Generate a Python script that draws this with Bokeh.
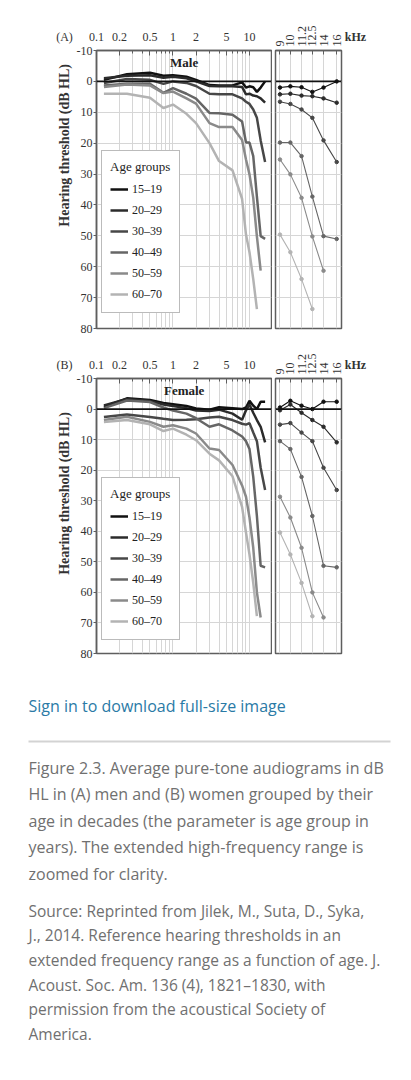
import math
from bokeh.plotting import figure
from bokeh.models import (Range1d, FixedTicker, PrintfTickFormatter, Span, Label,
                          Legend, LegendItem)
from bokeh.layouts import column, row
from bokeh.embed import file_html
from bokeh.resources import INLINE
from bokeh.core.properties import value

# ---------------- data ----------------
freqs = [0.125, 0.25, 0.5, 0.75, 1, 1.5, 2, 3, 4, 6, 8, 9, 10, 11.2, 12.5, 14, 16]
ext_ticks = [9, 10, 11.2, 12.5, 14, 16]
main_major_ticks = [0.1, 0.2, 0.5, 1, 2, 5, 10]
main_minor_ticks = [0.3, 0.4, 0.6, 0.7, 0.8, 0.9, 3, 4, 6, 7, 8, 9]
db_ticks = [-10, 0, 10, 20, 30, 40, 50, 60, 70, 80]

age_groups = ["15–19", "20–29", "30–39", "40–49", "50–59", "60–70"]
colors = ["#111111", "#2b2b2b", "#474747", "#666666", "#8a8a8a", "#b3b3b3"]

male_15_19 = [-0.5, -2.3, -2.8, -1.8, -2.0, -1.5, -0.5, 1.2, 1.3, 1.3, 0.3, 2.0, 1.6, 1.9, 3.4, 2.0, 0.0]
male_20_29 = [-1.0, -1.8, -2.0, -1.2, -1.5, -1.0, 0.0, 1.5, 1.6, 1.6, 1.8, 4.2, 4.0, 4.6, 4.8, 5.5, 6.9]
male_30_39 = [0.5, -0.8, -0.5, 0.8, 0.0, 0.5, 1.5, 4.0, 4.2, 4.2, 5.5, 6.6, 7.3, 9.1, 11.8, 19.1, 26.1]
male_40_49 = [1.3, 0.8, 0.8, 3.7, 2.2, 4.0, 5.6, 10.2, 10.3, 10.8, 13.0, 19.8, 19.8, 24.2, 37.3, 50.1, 51.0]
male_50_59 = [1.8, 1.0, 1.3, 3.8, 3.3, 5.5, 7.2, 13.5, 14.8, 14.8, 19.0, 25.3, 30.1, 37.7, 50.2, 61.3]
male_60_70 = [4.0, 4.0, 5.3, 8.6, 7.5, 10.5, 13.5, 20.0, 25.8, 28.8, 38.0, 49.6, 55.3, 64.0, 73.7]

female_15_19 = [-0.7, -3.5, -3.0, -2.0, -1.6, -1.0, -0.2, 0.2, -0.6, -0.3, 0.0, -0.5, -2.7, -1.1, 0.0, -2.4, -2.4]
female_20_29 = [-1.2, -3.3, -2.6, -1.5, -1.0, -0.3, 0.5, 0.6, 0.2, 1.5, 3.5, 0.4, -1.5, 1.2, 3.6, 5.8, 10.9]
female_30_39 = [2.6, 1.8, 2.6, 3.2, 3.6, 3.5, 3.3, 2.8, 2.5, 3.6, 4.8, 5.1, 4.6, 7.7, 10.5, 19.2, 26.5]
female_40_49 = [-0.3, -2.8, -2.3, -0.5, 0.5, 1.5, 3.0, 5.8, 5.0, 7.0, 9.0, 10.5, 13.1, 22.2, 35.0, 51.3, 51.8]
female_50_59 = [3.6, 2.5, 4.2, 5.8, 5.3, 6.4, 8.0, 12.9, 13.4, 18.3, 25.0, 28.7, 35.5, 45.4, 60.0, 68.2]
female_60_70 = [4.2, 3.6, 5.0, 7.2, 6.4, 8.4, 10.2, 14.6, 16.8, 22.0, 32.0, 40.4, 47.6, 56.9, 67.8]

male = [male_15_19, male_20_29, male_30_39, male_40_49, male_50_59, male_60_70]
female = [female_15_19, female_20_29, female_30_39, female_40_49, female_50_59, female_60_70]

y_title = "Hearing threshold (dB HL)"
caption_lines = [
    "Figure 2.3. Average pure-tone audiograms in dB",
    "HL in (A) men and (B) women grouped by their",
    "age in decades (the parameter is age group in",
    "years). The extended high-frequency range is",
    "zoomed for clarity.",
]
source_lines = [
    "Source: Reprinted from Jilek, M., Suta, D., Syka,",
    "J., 2014. Reference hearing thresholds in an",
    "extended frequency range as a function of age. J.",
    "Acoust. Soc. Am. 136 (4), 1821–1830, with",
    "permission from the acoustical Society of",
    "America.",
]

SERIF = "Liberation Serif"
SANS = "Open Sans"
GRID = "#d6d6d6"
FRAME = "#5e5e5e"
EXT_START = freqs.index(9)
TOP_STANDOFF = 10


def blank(width, height, y0=0, y1=None, xaxis_text=None, xaxis_at=0, bold=False):
    """Plain canvas whose data units are pixels (y downwards); optional one-label top axis."""
    y1 = height if y1 is None else y1
    f = figure(width=width, height=height, x_range=Range1d(0, width), y_range=Range1d(y1, y0),
               x_axis_location="above" if xaxis_text else None, y_axis_location=None,
               min_border_left=0, min_border_right=0, min_border_top=0, min_border_bottom=0,
               toolbar_location=None, tools="", output_backend="svg")
    f.outline_line_color = None
    f.grid.visible = False
    if xaxis_text:
        ax = f.xaxis[0]
        ax.ticker = FixedTicker(ticks=[xaxis_at], minor_ticks=[])
        ax.formatter = PrintfTickFormatter(format=xaxis_text)
        ax.axis_line_color = None
        ax.major_tick_line_color = None
        ax.minor_tick_line_color = None
        ax.major_tick_in = 0
        ax.major_tick_out = 0
        ax.major_label_standoff = TOP_STANDOFF - 3
        ax.major_label_text_font = SERIF
        ax.major_label_text_font_size = "12px"
        ax.major_label_text_font_style = "bold" if bold else "normal"
        ax.major_label_text_color = "#333333"
    return f


def side_labels(tag, frame_top, frame_bottom, title_y):
    # canvas is frame-aligned with its row neighbours: data y == page y inside the frame
    f = blank(73, frame_bottom - frame_top, frame_top, frame_bottom, tag, 64)
    f.text(x=[64], y=[title_y], text=[y_title], angle=math.pi / 2,
           text_font=value(SERIF), text_font_style="bold", text_font_size="14px",
           text_color="#333333", text_align="center", text_baseline="middle")
    return f


def khz_label(frame_top, frame_bottom):
    return blank(57, frame_bottom - frame_top, frame_top, frame_bottom, "kHz", 11, bold=True)


def main_panel(series, sex_label, frame_h, top, bottom, legend_dy):
    p = figure(x_axis_type="log", x_axis_location="above",
               x_range=Range1d(0.1, 19.4), y_range=Range1d(80, -10),
               frame_width=175, frame_height=frame_h,
               min_border_left=23, min_border_right=1,
               min_border_top=top, min_border_bottom=bottom,
               toolbar_location=None, tools="", output_backend="svg")
    p.outline_line_color = FRAME
    p.outline_line_width = 1.5

    xa = p.xaxis[0]
    xa.ticker = FixedTicker(ticks=main_major_ticks, minor_ticks=main_minor_ticks)
    xa.formatter = PrintfTickFormatter(format="%g")
    xa.major_tick_in = 5
    xa.major_tick_out = 0
    xa.minor_tick_in = 3
    xa.minor_tick_out = 0
    xa.major_label_standoff = TOP_STANDOFF
    xa.axis_line_color = FRAME
    xa.axis_line_width = 1.5
    xa.major_tick_line_color = FRAME
    xa.minor_tick_line_color = FRAME
    xa.major_label_text_font = SERIF
    xa.major_label_text_font_size = "12px"
    xa.major_label_text_color = "#333333"

    ya = p.yaxis[0]
    ya.ticker = FixedTicker(ticks=db_ticks)
    ya.formatter = PrintfTickFormatter(format="%d")
    ya.minor_tick_line_color = None
    ya.major_tick_in = 0
    ya.major_tick_out = 3
    ya.major_label_standoff = 1
    ya.axis_line_color = FRAME
    ya.axis_line_width = 1.5
    ya.major_tick_line_color = FRAME
    ya.major_label_text_font = SERIF
    ya.major_label_text_font_size = "12px"
    ya.major_label_text_color = "#333333"

    p.xgrid.grid_line_color = GRID
    p.xgrid.minor_grid_line_color = GRID
    p.ygrid.grid_line_color = GRID

    renderers = []
    for vals, col in zip(series, colors):
        r = p.line(freqs[:len(vals)], vals, line_width=2.5, line_color=col)
        renderers.append(r)

    p.add_layout(Span(location=0, dimension="width", line_color="#111111", line_width=1.8))

    legend = Legend(items=[LegendItem(label=a, renderers=[r]) for a, r in zip(age_groups, renderers)],
                    title="Age groups", location=(5, legend_dy), margin=0, padding=8,
                    spacing=1, label_height=20, glyph_height=20, glyph_width=18,
                    label_standoff=4, label_width=39, title_standoff=4,
                    border_line_color="#777777", border_line_width=1,
                    background_fill_color="white", background_fill_alpha=1,
                    label_text_font=SERIF, label_text_font_size="12px", label_text_color="#222222",
                    title_text_font=SERIF, title_text_font_size="13px",
                    title_text_font_style="normal", title_text_color="#222222")
    p.add_layout(legend)

    p.add_layout(Label(x=1.4, y=-6, text=sex_label, text_align="center", text_baseline="middle",
                       text_font=SERIF, text_font_style="bold", text_font_size="13px",
                       text_color="#222222"))
    return p


def ext_panel(series, frame_h, top, bottom):
    p = figure(x_axis_type="log", x_axis_location="above", y_axis_location=None,
               x_range=Range1d(8.6, 16.8), y_range=Range1d(80, -10),
               frame_width=66, frame_height=frame_h,
               min_border_left=3, min_border_right=3,
               min_border_top=top, min_border_bottom=bottom,
               toolbar_location=None, tools="", output_backend="svg")
    p.outline_line_color = FRAME
    p.outline_line_width = 1.5

    xa = p.xaxis[0]
    xa.ticker = FixedTicker(ticks=ext_ticks, minor_ticks=[])
    xa.formatter = PrintfTickFormatter(format="%g")
    xa.major_label_orientation = math.pi / 2
    xa.major_tick_in = 4
    xa.major_tick_out = 0
    xa.minor_tick_line_color = None
    xa.major_label_standoff = 4
    xa.axis_line_color = FRAME
    xa.axis_line_width = 1.5
    xa.major_tick_line_color = FRAME
    xa.major_label_text_font = SERIF
    xa.major_label_text_font_size = "12px"
    xa.major_label_text_color = "#333333"

    p.xgrid.grid_line_color = GRID
    p.ygrid.ticker = FixedTicker(ticks=db_ticks)
    p.ygrid.grid_line_color = GRID

    for vals, col in zip(series, colors):
        xs = freqs[EXT_START:len(vals)]
        ys = vals[EXT_START:]
        p.line(xs, ys, line_width=1.1, line_color=col)
        p.scatter(xs, ys, size=3.5, marker="circle", fill_color=col, line_color=col)

    p.add_layout(Span(location=0, dimension="width", line_color="#111111", line_width=1.8))
    return p


# row A: canvas 50 + 278 + 22 = 350 (frame 50..328); row B: 28 + 275 + 17 = 320 (frame 378..653)
labA = side_labels("(A)", 50, 328, 178)
mainA = main_panel(male, "Male", 278, 50, 22, 15)
extA = ext_panel(male, 278, 50, 22)
khzA = khz_label(50, 328)

labB = side_labels("(B)", 378, 653, 515.5)
mainB = main_panel(female, "Female", 275, 28, 17, 13)
extB = ext_panel(female, 275, 28, 17)
khzB = khz_label(378, 653)

# ---------------- caption ----------------
cap = blank(411, 390)
cap.text(x=[28], y=[35], text=["Sign in to download full-size image"],
         text_font=value(SANS), text_font_size="16px", text_color="#2a7aa6",
         text_baseline="middle")
cap.segment(x0=[28], y0=[71], x1=[390], y1=[71], line_color="#d3d3d3", line_width=2)
cap.text(x=[28] * len(caption_lines), y=[97.3 + 26.5 * i for i in range(len(caption_lines))],
         text=caption_lines, text_font=value(SANS), text_font_size="16px",
         text_color="#707070", text_baseline="middle")
cap.text(x=[28] * len(source_lines), y=[240 + 24.7 * i for i in range(len(source_lines))],
         text=source_lines, text_font=value(SANS), text_font_size="15.5px",
         text_color="#707070", text_baseline="middle")

layout = column(row(labA, mainA, extA, khzA), row(labB, mainB, extB, khzB), cap)
open("out.html", "w").write(file_html(layout, INLINE))
